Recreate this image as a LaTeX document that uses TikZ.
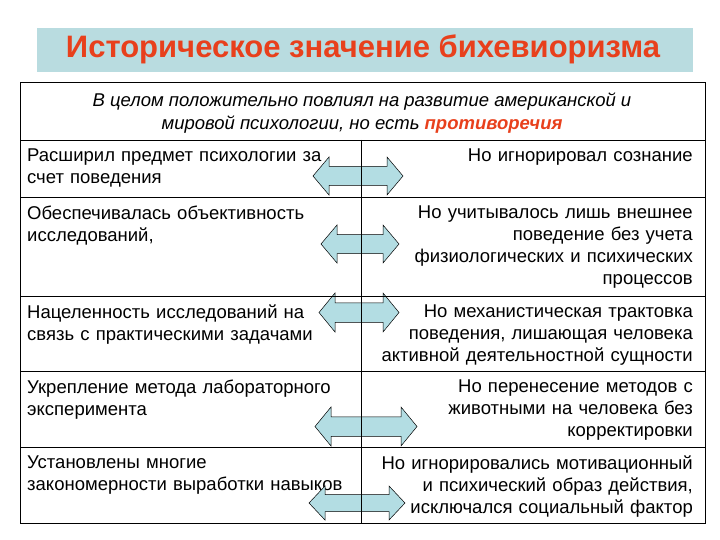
\documentclass[tikz,border=0pt]{standalone}
\usepackage{fontspec}
\setmainfont{Liberation Sans}
\definecolor{ttl}{HTML}{E8401C}
\definecolor{tbg}{HTML}{B9DCE0}
\definecolor{arr}{HTML}{B3DDE3}
\newcommand{\dbl}[5]{% name, x1, x2, y1, y2
  \coordinate (#1) at ({(#2+#3)/2},{(#4+#5)/2});
  \draw[line width=0.5pt,fill=arr] (#2,{(#4+#5)/2}) -- ({#2+16},#4) -- ({#2+16},{#4+(#5-#4)/4}) -- ({#3-16},{#4+(#5-#4)/4}) -- ({#3-16},#4) -- (#3,{(#4+#5)/2}) -- ({#3-16},#5) -- ({#3-16},{#5-(#5-#4)/4}) -- ({#2+16},{#5-(#5-#4)/4}) -- ({#2+16},#5) -- cycle;}
\begin{document}
\begin{tikzpicture}[x=1pt,y=-1pt,
  lt/.style={anchor=north west,align=left,inner sep=0,text width=340pt,font=\fontsize{18.5}{22}\selectfont},
  rt/.style={anchor=north east,align=right,inner sep=0,text width=340pt,font=\fontsize{18.5}{22}\selectfont}]
\useasboundingbox (0,0) rectangle (720,540);
\node[fill=tbg,minimum width=656pt,minimum height=44pt,inner sep=0] (title) at (365,50) {};
\node[text=ttl,font=\fontsize{31}{34}\selectfont\bfseries] (tt) at (363,49) {Историческое значение бихевиоризма};
\node[align=center,font=\fontsize{18.5}{23}\selectfont\itshape,inner sep=0] (hd) at (362,113) {В целом положительно повлиял на развитие американской и\\мировой психологии, но есть {\color{ttl}\bfseries противоречия}};
\node[lt] (l1) at (27,149) {Расширил  предмет психологии за\\счет поведения};
\node[lt] (l2) at (27,206) {Обеспечивалась объективность\\исследований,};
\node[lt] (l3) at (27,305) {Нацеленность исследований на\\связь с практическими задачами};
\node[lt] (l4) at (27,380) {Укрепление метода лабораторного\\эксперимента};
\node[lt] (l5) at (27,456) {Установлены многие\\закономерности выработки навыков};
\node[rt] (r1) at (693,149) {Но игнорировал сознание};
\node[rt] (r2) at (693,206) {Но  учитывалось лишь внешнее\\поведение без учета\\физиологических и психических\\процессов};
\node[rt] (r3) at (693,305) {Но механистическая трактовка\\поведения, лишающая человека\\активной деятельностной сущности};
\node[rt] (r4) at (693,380) {Но перенесение методов с\\животными на человека без\\корректировки};
\node[rt] (r5) at (693,456) {Но игнорировались мотивационный\\и психический образ действия,\\исключался социальный фактор};
\dbl{a1}{313}{403}{157}{195}
\dbl{a2}{321}{399}{225}{263}
\dbl{a3}{319}{399}{293}{332}
\dbl{a4}{315}{417}{407}{446}
\dbl{a5}{309}{405}{486}{520}
\draw[line width=1pt] (20,83) rectangle (705,523);
\foreach \y in {140,197,296,371,447} \draw[line width=0.7pt] (20,\y) -- (705,\y);
\draw[line width=0.7pt] (361,140) -- (361,523);
\end{tikzpicture}
\end{document}
